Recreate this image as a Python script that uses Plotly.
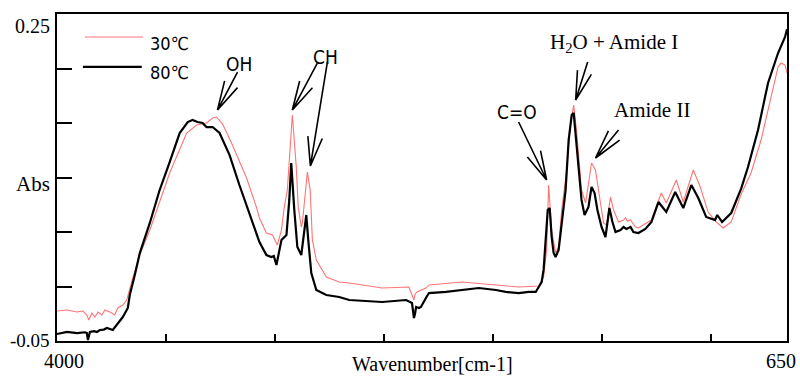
import math
import plotly.graph_objects as go

# ---------------- data ----------------
series_names = ["30℃", "80℃"]

wn_30 = [4000, 3954, 3908, 3881, 3863, 3854, 3840, 3826, 3812, 3794, 3780, 3757, 3735, 3721,
         3698, 3680, 3652, 3620, 3574, 3483, 3405, 3359, 3314, 3286, 3268, 3240, 3195, 3130,
         3085, 3071, 3039, 3011, 2989, 2970, 2957, 2943, 2920, 2902, 2893, 2879, 2874, 2856,
         2851, 2838, 2828, 2810, 2764, 2705, 2659, 2508, 2385, 2362, 2357, 2348, 2307, 2293,
         2142, 1986, 1881, 1790, 1767, 1753, 1744, 1730, 1712, 1698, 1684, 1661, 1643, 1629,
         1616, 1593, 1574, 1547, 1529, 1506, 1492, 1478, 1460, 1446, 1423, 1400, 1391, 1382,
         1368, 1345, 1332, 1272, 1227, 1204, 1158, 1126, 1080, 1048, 1012, 975, 943, 906,
         860, 815, 769, 723, 691, 677, 659, 650]
abs_30 = [-0.0225, -0.0216, -0.0234, -0.0225, -0.0261, -0.0307, -0.0243, -0.0280, -0.0234,
          -0.0261, -0.0216, -0.0234, -0.0261, -0.0197, -0.0170, -0.0124, 0.0078, 0.0290,
          0.0518, 0.1041, 0.1408, 0.1482, 0.1500, 0.1546, 0.1555, 0.1490, 0.1298, 0.0995,
          0.0729, 0.0629, 0.0491, 0.0473, 0.0381, 0.0518, 0.0729, 0.0885, 0.1573, 0.1096,
          0.0729, 0.0546, 0.0583, 0.0913, 0.1050, 0.0885, 0.0427, 0.0243, 0.0087, 0.0041,
          0.0032, -0.0014, -0.0005, -0.0124, -0.0070, -0.0050, -0.0014, 0.0014, 0.0041,
          0.0014, -0.0005, 0.0005, 0.0087, 0.0335, 0.0931, 0.0518, 0.0307, 0.0362, 0.0702,
          0.1069, 0.1500, 0.1665, 0.1436, 0.0885, 0.0766, 0.1133, 0.1069, 0.0766, 0.0583,
          0.0564, 0.0821, 0.0702, 0.0592, 0.0610, 0.0629, 0.0600, 0.0610, 0.0546, 0.0537,
          0.0610, 0.0858, 0.0766, 0.0977, 0.0775, 0.1069, 0.0913, 0.0683, 0.0592, 0.0537,
          0.0592, 0.0849, 0.1041, 0.1344, 0.1739, 0.2014, 0.2050, 0.2032, 0.1959]

wn_80 = [4000, 3954, 3908, 3872, 3863, 3858, 3849, 3830, 3817, 3803, 3785, 3771, 3744, 3725,
         3698, 3675, 3666, 3643, 3620, 3574, 3529, 3483, 3437, 3400, 3378, 3355, 3332, 3314,
         3286, 3254, 3208, 3163, 3117, 3071, 3039, 3016, 3005, 2993, 2970, 2947, 2934, 2925,
         2911, 2897, 2879, 2870, 2856, 2847, 2833, 2810, 2764, 2705, 2659, 2508, 2398, 2371,
         2362, 2357, 2352, 2339, 2330, 2307, 2293, 2215, 2064, 1986, 1941, 1881, 1835, 1803,
         1776, 1767, 1758, 1748, 1739, 1730, 1721, 1712, 1698, 1684, 1666, 1652, 1638, 1629,
         1616, 1607, 1593, 1579, 1561, 1547, 1533, 1520, 1501, 1483, 1474, 1465, 1451, 1437,
         1414, 1400, 1387, 1368, 1355, 1332, 1300, 1272, 1240, 1204, 1163, 1126, 1089, 1057,
         1021, 980, 970, 948, 906, 860, 829, 783, 737, 691, 659, 650]
abs_80 = [-0.0436, -0.0417, -0.0427, -0.0420, -0.0427, -0.0491, -0.0417, -0.0410, -0.0417,
          -0.0399, -0.0395, -0.0381, -0.0399, -0.0353, -0.0280, -0.0197, -0.0078, 0.0106,
          0.0307, 0.0583, 0.0885, 0.1140, 0.1408, 0.1509, 0.1528, 0.1509, 0.1500, 0.1463,
          0.1463, 0.1408, 0.1206, 0.0931, 0.0674, 0.0408, 0.0289, 0.0271, 0.0280, 0.0197,
          0.0427, 0.0473, 0.0794, 0.1133, 0.0702, 0.0362, 0.0289, 0.0427, 0.0656, 0.0427,
          0.0124, -0.0032, -0.0078, -0.0096, -0.0124, -0.0142, -0.0124, -0.0151, -0.0289,
          -0.0250, -0.0188, -0.0197, -0.0188, -0.0105, -0.0060, -0.0050, -0.0014, -0.0032,
          -0.0050, -0.0060, -0.0050, -0.0050, 0.0041, 0.0152, 0.0427, 0.0702, 0.0720, 0.0454,
          0.0307, 0.0271, 0.0335, 0.0583, 0.0885, 0.1344, 0.1573, 0.1592, 0.1317, 0.1069,
          0.0794, 0.0656, 0.0729, 0.0913, 0.0858, 0.0702, 0.0546, 0.0454, 0.0583, 0.0720,
          0.0592, 0.0500, 0.0518, 0.0546, 0.0528, 0.0546, 0.0500, 0.0491, 0.0528, 0.0592,
          0.0775, 0.0684, 0.0867, 0.0720, 0.0931, 0.0812, 0.0638, 0.0610, 0.0656, 0.0592,
          0.0674, 0.0900, 0.1096, 0.1436, 0.1867, 0.2142, 0.2289, 0.2360]

x_range = [4000, 650]
y_range = [-0.05, 0.25]
x_tick_vals = [3500, 3000, 2500, 2000, 1500, 1000]
y_tick_vals = [0.25, 0.20, 0.15, 0.10, 0.05, 0.0, -0.05]
x_end_labels = ["4000", "650"]
y_labels = ["0.25", "Abs", "-0.05"]
y_label_vals = [0.25, 0.10, -0.05]

# peak labels: (text, wavenumber of the 30℃ peak pointed at)
peak_labels = ["OH", "CH", "C=O", "H<sub>2</sub>O + Amide I", "Amide II"]
peak_wn = [3268, 2920, 1744, 1629, 1547]
ch2_wn = 2851

RED = "#ff7474"
SERIF = "Liberation Serif, Times New Roman, serif"
NARROW = "Liberation Sans Narrow, Arial Narrow, DejaVu Sans Condensed, Liberation Sans, sans-serif"

fig = go.Figure()
fig.add_trace(go.Scatter(x=wn_30, y=abs_30, mode="lines", name=series_names[0],
                         line=dict(color=RED, width=1.1), showlegend=False))
fig.add_trace(go.Scatter(x=wn_80, y=abs_80, mode="lines", name=series_names[1],
                         line=dict(color="black", width=2.2), showlegend=False))


def val30(w):
    return abs_30[wn_30.index(w)]


def arrow_shape(w, tip_off, tail_off, barb=30, half_angle=14):
    # offsets in screen pixels (y down); converted to shape pixel coords (y up)
    tx, ty = tip_off
    dx, dy = tail_off
    L = math.hypot(dx, dy)
    ux, uy = dx / L, dy / L
    pts = []
    for s in (-1, 1):
        a = math.radians(half_angle * s)
        bx = ux * math.cos(a) - uy * math.sin(a)
        by = ux * math.sin(a) + uy * math.cos(a)
        pts.append((tx + bx * barb, ty + by * barb))
    p = lambda x, y: f"{x:.1f},{-y:.1f}"
    path = (f"M{p(tx + dx, ty + dy)} L{p(tx, ty)} "
            f"M{p(*pts[0])} L{p(tx, ty)} L{p(*pts[1])}")
    return dict(type="path", xref="x", yref="y", xsizemode="pixel", ysizemode="pixel",
                xanchor=w, yanchor=val30(w), path=path,
                line=dict(color="black", width=1.6))


shapes = [
    arrow_shape(peak_wn[0], (1, -7), (20, -38)),
    arrow_shape(peak_wn[1], (0, -5), (25, -47)),
    arrow_shape(ch2_wn, (3, -6), (17, -104)),
    arrow_shape(peak_wn[2], (-2, -5), (-28, -58)),
    arrow_shape(peak_wn[3], (2, -5), (12, -38)),
    arrow_shape(peak_wn[4], (4, -5), (23, -28)),
    # legend samples
    dict(type="line", xref="paper", yref="paper", x0=0.0383, x1=0.1175, y0=0.9297, y1=0.9297,
         line=dict(color=RED, width=1.1)),
    dict(type="line", xref="paper", yref="paper", x0=0.0355, x1=0.1161, y0=0.838, y1=0.838,
         line=dict(color="black", width=2.2)),
]

annotations = []
# peak label texts
label_shift = [(22, 53, NARROW, 19), (33, 58, NARROW, 19), (-32, 73, NARROW, 19),
               (40, 62, SERIF, 21), (60, 53, SERIF, 21)]
for txt, w, (xs, ys, fam, sz) in zip(peak_labels, peak_wn, label_shift):
    annotations.append(dict(x=w, y=val30(w), xref="x", yref="y", text=txt, showarrow=False,
                            xshift=xs, yshift=ys, xanchor="center", yanchor="middle",
                            font=dict(family=fam, size=sz, color="black")))
# legend texts
for name, yp in zip(series_names, [0.911, 0.8226]):
    annotations.append(dict(x=0.1243, y=yp, xref="paper", yref="paper", text=name,
                            showarrow=False, xanchor="left", yanchor="middle",
                            font=dict(family=NARROW, size=18, color="black")))
# y labels
for txt, v, ys, sz in zip(y_labels, y_label_vals, [-12, -6, 1], [20, 21, 19]):
    annotations.append(dict(x=0, y=v, xref="paper", yref="y", text=txt, showarrow=False,
                            xanchor="right", yanchor="middle", xshift=-5, yshift=ys,
                            font=dict(family=SERIF, size=sz, color="black")))
# x end labels
for txt, v, xs in zip(x_end_labels, x_range, [7, -6]):
    annotations.append(dict(x=v, y=0, xref="x", yref="paper", text=txt, showarrow=False,
                            xanchor="center", yanchor="middle", xshift=xs, yshift=-20,
                            font=dict(family=SERIF, size=20, color="black")))
annotations.append(dict(x=0.515, y=0, xref="paper", yref="paper", text="Wavenumber[cm-1]",
                        showarrow=False, xanchor="center", yanchor="middle", yshift=-23,
                        font=dict(family=SERIF, size=20, color="black")))

fig.update_layout(
    width=800, height=376,
    margin=dict(l=57, r=11, t=14, b=35),
    paper_bgcolor="white", plot_bgcolor="white",
    shapes=shapes, annotations=annotations,
    xaxis=dict(range=x_range, showgrid=False, zeroline=False, showline=True, mirror=True,
               linecolor="black", linewidth=2, ticks="inside", tickvals=x_tick_vals,
               ticklen=7, tickwidth=2, tickcolor="black", showticklabels=False),
    yaxis=dict(range=y_range, showgrid=False, zeroline=False, showline=True, mirror=True,
               linecolor="black", linewidth=2, ticks="inside", tickvals=y_tick_vals,
               ticklen=15, tickwidth=2, tickcolor="black", showticklabels=False),
)

fig.write_html("out.html", config={"displayModeBar": False},
               post_script="document.body.style.margin='0';document.body.style.overflow='hidden';")
